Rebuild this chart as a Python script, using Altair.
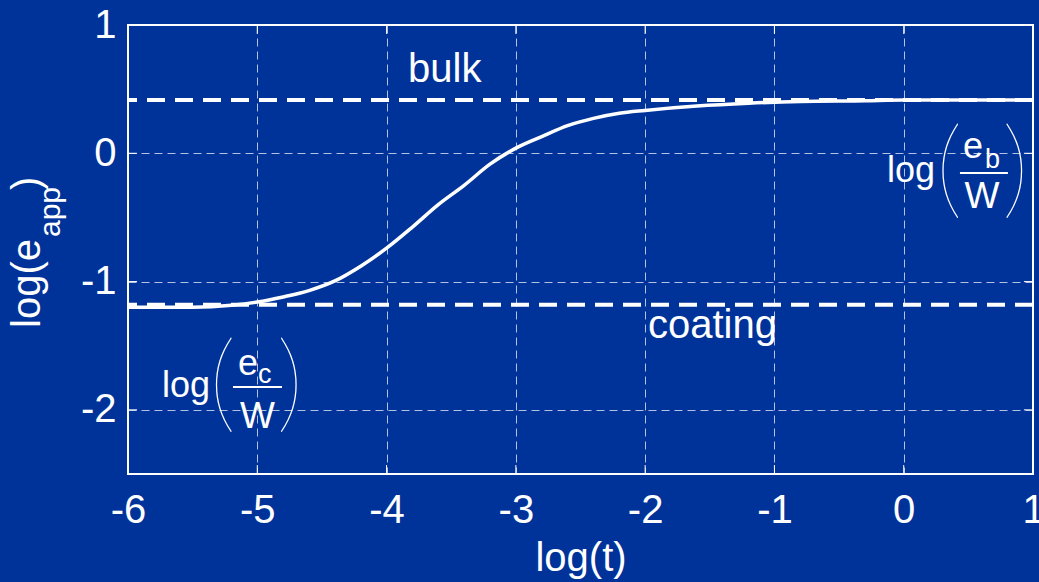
import altair as alt
import pandas as pd

# Apparent effusivity versus log time
log_t = [-6.0, -5.5, -5.2, -5.0, -4.8, -4.6, -4.4, -4.2, -4.0, -3.8, -3.6, -3.4,
         -3.2, -3.0, -2.8, -2.6, -2.4, -2.2, -2.0, -1.6, -1.2, -0.8, -0.3, 0.0, 1.0]
log_e_app = [-1.20, -1.20, -1.185, -1.16, -1.12, -1.07, -0.995, -0.88, -0.74, -0.575,
             -0.40, -0.25, -0.085, 0.04, 0.13, 0.215, 0.272, 0.312, 0.334, 0.368,
             0.39, 0.404, 0.41, 0.415, 0.415]

# Asymptotes
bulk_level = 0.415
coating_level = -1.18

# Axes
x_ticks = [-6, -5, -4, -3, -2, -1, 0, 1]
y_ticks = [-2, -1, 0, 1]
x_domain = [-6, 1]
y_domain = [-2.5, 1]

BG = "#003399"
FONT = "Liberation Sans"

curve = pd.DataFrame({"t": log_t, "e": log_e_app})
levels = pd.DataFrame({"name": ["bulk", "coating"], "e": [bulk_level, coating_level]})

xs = alt.Scale(domain=x_domain, nice=False, zero=False)
ys = alt.Scale(domain=y_domain, nice=False, zero=False)

plain_label = "toString(datum.value)"

base = alt.Chart(curve).encode(
    x=alt.X("t:Q", scale=xs,
            axis=alt.Axis(values=x_ticks, title="log(t)", labelExpr=plain_label,
                          labelFlush=False, labelOverlap=False)),
    y=alt.Y("e:Q", scale=ys,
            axis=alt.Axis(values=y_ticks, title=None, labelExpr=plain_label,
                          labelFlush=False, labelOverlap=False)),
)

line = base.mark_line(color="white", strokeWidth=3.5, clip=True,
                      interpolate="monotone")

asymptotes = alt.Chart(levels).mark_rule(
    color="white", strokeWidth=4, strokeDash=[18, 10]
).encode(y=alt.Y("e:Q", scale=ys))

# Inward tick marks on all four sides of the box
tick_len_x = 0.07
tick_len_y = 0.07
xt = pd.DataFrame({"v": x_ticks})
yt = pd.DataFrame({"v": y_ticks})
ticks_bottom = alt.Chart(xt).mark_rule(color="white", strokeWidth=1).encode(
    x=alt.X("v:Q", scale=xs), y=alt.datum(y_domain[0]),
    y2=alt.datum(y_domain[0] + tick_len_y))
ticks_top = alt.Chart(xt).mark_rule(color="white", strokeWidth=1).encode(
    x=alt.X("v:Q", scale=xs), y=alt.datum(y_domain[1] - tick_len_y),
    y2=alt.datum(y_domain[1]))
ticks_left = alt.Chart(yt).mark_rule(color="white", strokeWidth=1).encode(
    y=alt.Y("v:Q", scale=ys), x=alt.datum(x_domain[0]),
    x2=alt.datum(x_domain[0] + tick_len_x))
ticks_right = alt.Chart(yt).mark_rule(color="white", strokeWidth=1).encode(
    y=alt.Y("v:Q", scale=ys), x=alt.datum(x_domain[1] - tick_len_x),
    x2=alt.datum(x_domain[1]))

# Plain word labels
words = pd.DataFrame({
    "x": [-3.55, -1.48],
    "y": [0.556, -1.44],
    "label": ["bulk", "coating"],
})
word_marks = alt.Chart(words).mark_text(
    color="white", font=FONT, fontSize=40, align="center", baseline="alphabetic"
).encode(x=alt.X("x:Q", scale=xs), y=alt.Y("y:Q", scale=ys), text="label:N")

# log(e/W) expressions: regular-size pieces, subscripts, parentheses
big = pd.DataFrame({
    "x": [-5.737, -5.149, -4.998, -0.130, 0.458, 0.605],
    "y": [-1.90, -1.728, -2.141, -0.224, -0.037, -0.426],
    "label": ["log", "e", "W", "log", "e", "W"],
    "align": ["left", "left", "center", "left", "left", "center"],
})
big_left = alt.Chart(big[big["align"] == "left"]).mark_text(
    color="white", font=FONT, fontSize=36, align="left", baseline="alphabetic"
).encode(x=alt.X("x:Q", scale=xs), y=alt.Y("y:Q", scale=ys), text="label:N")
big_center = alt.Chart(big[big["align"] == "center"]).mark_text(
    color="white", font=FONT, fontSize=37, align="center", baseline="alphabetic"
).encode(x=alt.X("x:Q", scale=xs), y=alt.Y("y:Q", scale=ys), text="label:N")

subs = pd.DataFrame({
    "x": [-4.995, 0.628],
    "y": [-1.79, -0.115],
    "label": ["c", "b"],
})
sub_marks = alt.Chart(subs).mark_text(
    color="white", font=FONT, fontSize=27, align="left", baseline="alphabetic"
).encode(x=alt.X("x:Q", scale=xs), y=alt.Y("y:Q", scale=ys), text="label:N")

parens = pd.DataFrame({
    "x": [-5.269, -4.747, 0.350, 0.864],
    "y": [-1.819, -1.819, -0.157, -0.157],
    "label": ["(", ")", "(", ")"],
})
paren_marks = alt.Chart(parens).mark_text(
    color="white", font="Lato", fontWeight=200, fontSize=108,
    align="center", baseline="middle"
).encode(x=alt.X("x:Q", scale=xs), y=alt.Y("y:Q", scale=ys), text="label:N")

bars = pd.DataFrame({
    "x": [-5.188, 0.435],
    "x2": [-4.809, 0.806],
    "y": [-1.822, -0.154],
})
bar_marks = alt.Chart(bars).mark_rule(color="white", strokeWidth=2).encode(
    x=alt.X("x:Q", scale=xs), x2="x2:Q", y=alt.Y("y:Q", scale=ys))

# Y-axis title with subscript, drawn as rotated text pieces
ytitle = pd.DataFrame({
    "px": [-88, -68, -88],
    "py": [303, 212, 165],
    "label": ["log(e", "app", ")"],
    "size": [40, 30, 40],
})
ytitle_main = alt.Chart(ytitle[ytitle["size"] == 40]).mark_text(
    color="white", font=FONT, fontSize=40, angle=270, align="left",
    baseline="alphabetic"
).encode(x=alt.X("px:Q", scale=None), y=alt.Y("py:Q", scale=None), text="label:N")
ytitle_sub = alt.Chart(ytitle[ytitle["size"] == 30]).mark_text(
    color="white", font=FONT, fontSize=30, angle=270, align="left",
    baseline="alphabetic"
).encode(x=alt.X("px:Q", scale=None), y=alt.Y("py:Q", scale=None), text="label:N")

chart = alt.layer(
    ticks_bottom, ticks_top, ticks_left, ticks_right,
    asymptotes, line, word_marks,
    big_left, big_center, sub_marks, paren_marks, bar_marks,
    ytitle_main, ytitle_sub,
).properties(
    width=905,
    height=449,
    background=BG,
    padding={"left": 128, "top": 25, "right": 6, "bottom": 108},
    autosize=alt.AutoSizeParams(type="none"),
).configure_view(
    stroke="white", strokeWidth=2, fill=BG,
).configure_axis(
    domain=False,
    ticks=False,
    tickSize=0,
    grid=True,
    gridColor="white",
    gridOpacity=0.7,
    gridWidth=1,
    gridDash=[8, 5],
    labelColor="white",
    labelFont=FONT,
    labelFontSize=40,
    labelPadding=12,
    titleColor="white",
    titleFont=FONT,
    titleFontSize=40,
    titleFontWeight="normal",
).configure_axisX(
    labelPadding=16,
    titlePadding=8,
)

chart.save("out.html", embed_options={"renderer": "svg", "actions": False})
